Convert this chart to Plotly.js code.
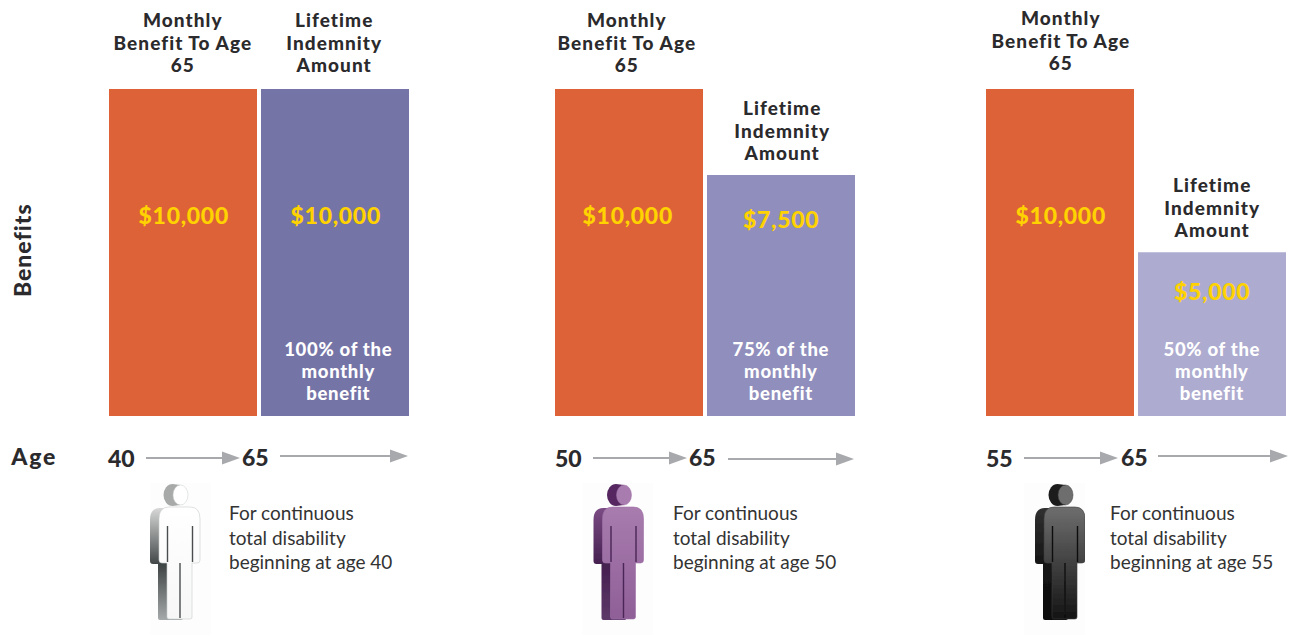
<!DOCTYPE html>
<html><head><meta charset="utf-8">
<script src="https://cdn.plot.ly/plotly-3.0.1.min.js"></script>
<style>html,body{margin:0;padding:0;background:#fff}#c{width:1295px;height:635px}</style>
</head><body><div id="c"></div>
<script>
// ---- data ----
const monthlyBenefit = [10000, 10000, 10000];
const indemnityHeight = [10000, 7370, 5010];
const monthlyLabels = ["$10,000", "$10,000", "$10,000"];
const indemnityLabels = ["$10,000", "$7,500", "$5,000"];
const percentLabels = ["100% of the", "75% of the", "50% of the"];
const startAges = ["40", "50", "55"];
const endAge = "65";
const monthlyTitle = "Monthly<br>Benefit To Age<br>65";
const indemnityTitle = "Lifetime<br>Indemnity<br>Amount";

// ---- layout constants (pixels of the 1295x635 page) ----
const W = 1295, H = 635, BASE = 416, TOP = 89;
const groupLeft = [109, 555, 986], barW = 148, barGap = 4;
const indemnityColors = ["#7574A7", "#908EBC", "#ADABCF"];
const px = v => v / W, py = v => 1 - v / H;
const DARK = "#2b2a2c", FONT = "Lato, sans-serif", GREY = "#A7A9AC", YEL = "#FFD200";

const traces = [
 {type:"bar", name:"Monthly Benefit To Age 65",
  x:groupLeft.map(l=>l+barW/2), y:monthlyBenefit, width:groupLeft.map(()=>barW),
  marker:{color:"#DD6238",line:{width:0}}, hoverinfo:"skip"},
 {type:"bar", name:"Lifetime Indemnity Amount",
  x:groupLeft.map(l=>l+barW+barGap+barW/2), y:indemnityHeight, width:groupLeft.map(()=>barW),
  marker:{color:indemnityColors,line:{width:0}}, hoverinfo:"skip"}
];

const ann = [], spacing = [], leading = [];
function T(text,x,y,size,color,opt,weight,ls,lh){
  ann.push(Object.assign({xref:"paper",yref:"paper",x:px(x),y:py(y),text:text,showarrow:false,
    xanchor:"center",yanchor:"middle",align:"center",
    font:{family:FONT,size:size,color:color,weight:weight||400}},opt||{}));
  spacing.push(ls||0); leading.push(lh||0);
}
const mtY=[44,44,42], itY=[44,132,209], itX=[334,782,1212], mtX=[183,627,1061];
const amY=[215,219,291], amMX=[183,627,1060], amIX=[335,781,1212], pctX=[338,781,1212];
const sX=[121,568,999], eX=[255,702,1134], descX=[227,671,1108];
groupLeft.forEach((_,i)=>{
  T(monthlyTitle,mtX[i],mtY[i],19,DARK,null,900,1.05,22.5);
  T(indemnityTitle,itX[i],itY[i],19,DARK,null,900,1.05,22.5);
  T(monthlyLabels[i],amMX[i],215,23,YEL,null,900,0.7);
  T(indemnityLabels[i],amIX[i],amY[i],23,YEL,null,900,0.7);
  T(percentLabels[i]+"<br>monthly<br>benefit",pctX[i],373,18.5,"#ffffff",null,900,0.7,22);
  T(startAges[i],sX[i],458,23,DARK,null,900,0);
  T(endAge,eX[i],457,23,DARK,null,900,0);
  T("For continuous<br>total disability<br>beginning at age "+startAges[i],descX[i],537,19,"#333333",{xanchor:"left",align:"left"});
});
T("Age",33,456,23,DARK,null,900,1.8);
T("Benefits",22,250,23,DARK,{textangle:-90},900,1);

// arrows
const arrows=[[146,240,458],[280,408,456],[593,687,458],[728,854,459],[1024,1118,458],[1158,1288,456]];
const shapes=[];
arrows.forEach(a=>{
  const [x0,x1,y]=a, hl=18, hh=6.5;
  shapes.push({type:"line",xref:"paper",yref:"paper",x0:px(x0),x1:px(x1-hl+1),y0:py(y),y1:py(y),line:{color:GREY,width:2}});
  shapes.push({type:"path",xref:"paper",yref:"paper",
    path:`M ${px(x1-hl)} ${py(y-hh)} L ${px(x1)} ${py(y)} L ${px(x1-hl)} ${py(y+hh)} Z`,
    fillcolor:GREY,line:{width:0}});
});

// person pictograms as gradient drawings
function person(w,cx,c){
  // local coordinates: box is w x 152, y=0 at page y=483
  const hw=20.5, lw=12.5, s=9;
  const body=`M${cx-hw} 36 Q${cx-hw} 24 ${cx-hw+10} 24 L${cx+hw-10} 24 Q${cx+hw} 24 ${cx+hw} 36 L${cx+hw} 77 Q${cx+hw} 80 ${cx+hw-3} 80 L${cx+lw} 80 L${cx+lw} 134 Q${cx+lw} 136 ${cx+lw-2} 136 L${cx-lw+2} 136 Q${cx-lw} 136 ${cx-lw} 134 L${cx-lw} 80 L${cx-hw+3} 80 Q${cx-hw} 80 ${cx-hw} 77 Z`;
  const svg=`<svg xmlns="http://www.w3.org/2000/svg" width="${w*3}" height="456" viewBox="0 0 ${w} 152">
  <defs>
   <linearGradient id="f" x1="0" y1="0" x2="0" y2="1"><stop offset="0" stop-color="${c.face[0]}"/><stop offset="1" stop-color="${c.face[1]}"/></linearGradient>
   <linearGradient id="s" gradientUnits="userSpaceOnUse" x1="0" y1="24" x2="0" y2="138"><stop offset="0" stop-color="${c.side[0]}"/><stop offset="0.5" stop-color="${c.side[1]}"/><stop offset="1" stop-color="${c.side[2]}"/></linearGradient>
   <filter id="b"><feGaussianBlur stdDeviation="0.5"/></filter>
  </defs>
  <rect width="${w}" height="152" fill="#fdfdfd"/>
  <g filter="url(#b)">
   <path d="M${cx+1} 2 L${cx-7} 1 A9 11 0 0 0 ${cx-7} 23 L${cx+1} 22 Z" fill="${c.head}"/>
   <path d="${body}" transform="translate(${-s},1)" fill="url(#s)"/>
   <ellipse cx="${cx+1}" cy="12" rx="7.5" ry="10" fill="${c.face[0]}" stroke="${c.edge}" stroke-width="0.5"/>
   <path d="${body}" fill="url(#f)" stroke="${c.edge}" stroke-width="0.6"/>
   <path d="M${cx-hw+8.5} 43V79 M${cx+hw-7.5} 43V79 M${cx+0.5} 80V135" stroke="${c.slit}" stroke-width="1.4" fill="none"/>
  </g></svg>`;
  return "data:image/svg+xml;charset=utf-8,"+encodeURIComponent(svg);
}
const figs=[
 {x:150,w:61,cx:29.5,c:{face:["#ffffff","#f7f7f7"],side:["#d8d8d8","#3f4444","#a9adad"],head:"#a8aaaa",edge:"#c9cccc",slit:"#4a4e4e"}},
 {x:582,w:71,cx:41,c:{face:["#a87cae","#8f5f98"],side:["#7a4a84","#44204f","#5e3a6a"],head:"#54285f",edge:"#a070a8",slit:"#4a2656"}},
 {x:1024,w:61,cx:40.5,c:{face:["#6e6e6e","#141414"],side:["#303030","#151515","#0a0a0a"],head:"#1c1c1c",edge:"#3c3c3c",slit:"#101010"}}
];
const images=figs.map(f=>({source:person(f.w,f.cx,f.c),xref:"paper",yref:"paper",
  x:px(f.x),y:py(483),sizex:f.w/W,sizey:152/H,xanchor:"left",yanchor:"top",sizing:"stretch",layer:"above"}));

const layout={
  width:W,height:H,margin:{l:0,r:0,t:0,b:0},paper_bgcolor:"#fff",plot_bgcolor:"#fff",
  barmode:"overlay",showlegend:false,
  xaxis:{range:[0,W],domain:[0,1],visible:false,fixedrange:true},
  yaxis:{range:[0,10000],domain:[py(BASE),py(TOP)],visible:false,fixedrange:true},
  annotations:ann,shapes:shapes,images:images
};
Plotly.newPlot("c",traces,layout,{displayModeBar:false,staticPlot:true}).then(()=>{
  document.querySelectorAll(".annotation-text").forEach((t,i)=>{
    if(spacing[i]) t.setAttribute("style",t.getAttribute("style")+";letter-spacing:"+spacing[i]+"px");
    if(leading[i]) t.querySelectorAll("tspan.line").forEach((l,k)=>{ l.setAttribute("dy",(k*leading[i])+"px"); });
  });
});
</script></body></html>
